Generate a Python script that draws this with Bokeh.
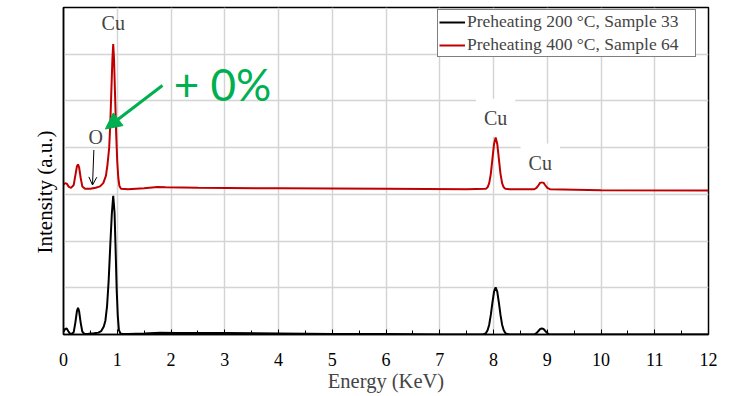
from bokeh.plotting import figure
from bokeh.models import (Label, Arrow, OpenHead, NormalHead, FixedTicker, Title,
                          SingleIntervalTicker, Legend, LegendItem, Range1d)
from bokeh.embed import file_html
from bokeh.resources import INLINE

# Energy (KeV) / intensity (a.u.)
energy_200 = [0.00, 0.03, 0.06, 0.09, 0.12, 0.15, 0.19, 0.22, 0.25, 0.27, 0.29, 0.32, 0.35, 0.39,
              0.45, 0.50, 0.55, 0.60, 0.65, 0.70, 0.75, 0.78, 0.81, 0.84, 0.87, 0.90, 0.925,
              0.95, 0.97, 0.99, 1.01, 1.03, 1.06, 1.10, 1.20, 1.50, 1.80, 2.10, 3.00, 4.00,
              5.00, 6.00, 7.00, 7.80, 7.83, 7.86, 7.89, 7.92, 7.95, 7.98, 8.01, 8.04, 8.07,
              8.10, 8.13, 8.16, 8.19, 8.22, 8.25, 8.30, 8.76, 8.80, 8.84, 8.87, 8.90, 8.93,
              8.96, 9.00, 9.04, 10.0, 11.0, 12.0]
intensity_200 = [0.06, 0.12, 0.13, 0.07, 0.02, 0.01, 0.05, 0.25, 0.50, 0.57, 0.50, 0.25, 0.06, 0.01,
                 0.01, 0.02, 0.02, 0.03, 0.04, 0.07, 0.17, 0.30, 0.60, 1.15, 1.90, 2.60, 2.97,
                 2.60, 1.80, 0.95, 0.40, 0.10, 0.02, 0.01, 0.01, 0.02, 0.04, 0.03, 0.03, 0.02,
                 0.01, 0.01, 0.00, 0.00, 0.01, 0.03, 0.09, 0.21, 0.42, 0.68, 0.92, 1.01, 0.92,
                 0.68, 0.42, 0.21, 0.09, 0.03, 0.01, 0.00, 0.00, 0.03, 0.08, 0.12, 0.13, 0.12,
                 0.08, 0.03, 0.00, 0.00, 0.00, 0.00]

energy_400 = [0.00, 0.03, 0.06, 0.10, 0.14, 0.19, 0.22, 0.25, 0.27, 0.29, 0.32, 0.35, 0.40,
              0.50, 0.60, 0.68, 0.74, 0.79, 0.82, 0.85, 0.87, 0.89, 0.91, 0.925, 0.94, 0.96,
              0.98, 1.00, 1.02, 1.04, 1.07, 1.20, 1.50, 1.75, 1.90, 2.50, 4.00, 6.00, 7.50,
              7.86, 7.89, 7.92, 7.95, 7.98, 8.01, 8.04, 8.07, 8.10, 8.13, 8.16, 8.19, 8.22,
              8.30, 8.76, 8.80, 8.84, 8.87, 8.90, 8.93, 8.96, 9.00, 9.05, 10.0, 12.0]
intensity_400 = [3.21, 3.24, 3.23, 3.16, 3.14, 3.20, 3.40, 3.60, 3.64, 3.58, 3.35, 3.17, 3.12,
                 3.12, 3.14, 3.17, 3.24, 3.40, 3.65, 4.00, 4.50, 5.20, 5.90, 6.22, 5.90, 5.10,
                 4.30, 3.70, 3.35, 3.18, 3.12, 3.11, 3.13, 3.16, 3.15, 3.14, 3.13, 3.12, 3.11,
                 3.12, 3.15, 3.24, 3.44, 3.76, 4.08, 4.22, 4.08, 3.76, 3.44, 3.24, 3.15, 3.12,
                 3.11, 3.11, 3.14, 3.20, 3.25, 3.26, 3.25, 3.20, 3.14, 3.11, 3.09, 3.08]

series_names = ["Preheating 200 \u00b0C, Sample 33", "Preheating 400 \u00b0C, Sample 64"]
series_colors = ["#000000", "#c00000"]
x_ticks = list(range(0, 13))
y_grid = list(range(0, 8))

SERIF = "Liberation Serif"

p = figure(width=725, height=396, output_backend="svg", toolbar_location=None,
           x_range=Range1d(0, 12), y_range=Range1d(0, 7),
           min_border_left=63, min_border_right=17, min_border_top=7, min_border_bottom=62)
p.background_fill_color = "white"
p.border_fill_color = "white"
p.outline_line_color = "black"
p.outline_line_width = 1.5

r1 = p.line(energy_200, intensity_200, line_color=series_colors[0], line_width=2)
r2 = p.line(energy_400, intensity_400, line_color=series_colors[1], line_width=2)

# axes
p.xaxis.ticker = SingleIntervalTicker(interval=1, num_minor_ticks=2)
p.xaxis.major_tick_in = 5
p.xaxis.major_tick_out = 0
p.xaxis.minor_tick_in = 4
p.xaxis.minor_tick_out = 0
p.xaxis.axis_line_width = 1.5
p.xaxis.major_label_text_font = SERIF
p.xaxis.major_label_text_font_size = "18px"
p.xaxis.major_label_text_color = "black"
p.xaxis.major_label_standoff = 18
p.xaxis.axis_label = "Energy (KeV)"
p.xaxis.axis_label_text_font = SERIF
p.xaxis.axis_label_text_font_size = "20.5px"
p.xaxis.axis_label_text_font_style = "normal"
p.xaxis.axis_label_standoff = 1

p.yaxis.ticker = FixedTicker(ticks=[])
p.yaxis.major_tick_in = 0
p.yaxis.major_tick_out = 0
p.yaxis.minor_tick_in = 0
p.yaxis.minor_tick_out = 0
p.yaxis.axis_line_width = 1.5

p.xgrid.ticker = FixedTicker(ticks=x_ticks)
p.ygrid.ticker = FixedTicker(ticks=y_grid)
p.xgrid.grid_line_color = "#d4d4d4"
p.ygrid.grid_line_color = "#d4d4d4"
p.xgrid.grid_line_width = 1.5
p.ygrid.grid_line_width = 1.5

# y axis title, a little below the frame centre as in the source
p.add_layout(Title(text="Intensity (a.u.)", align="left", offset=81, standoff=14,
                   text_font=SERIF, text_font_size="21px", text_font_style="normal",
                   text_color="black"), "left")

# legend
legend = Legend(items=[LegendItem(label=series_names[0], renderers=[r1]),
                       LegendItem(label=series_names[1], renderers=[r2])],
                location=(374, 277), margin=0, padding=1, spacing=2,
                label_text_font=SERIF, label_text_font_size="17.5px",
                label_height=20, label_width=227, glyph_height=20, glyph_width=26,
                label_standoff=2,
                border_line_color="black", border_line_width=1.2,
                background_fill_alpha=1.0)
p.add_layout(legend)

# annotations
def peak_label(x, y, txt):
    p.add_layout(Label(x=x, y=y, text=txt, text_font=SERIF, text_font_size="20px",
                       text_align="center", text_baseline="middle",
                       background_fill_color="white", padding=8))

p.add_layout(Label(x=0.925, y=6.66, text="Cu", text_font=SERIF, text_font_size="20px",
                   text_align="center", text_baseline="middle"))
p.add_layout(Label(x=0.60, y=4.22, text="O", text_font=SERIF, text_font_size="20px",
                   text_align="center", text_baseline="middle"))
peak_label(8.04, 4.64, "Cu")
peak_label(8.87, 3.68, "Cu")

p.add_layout(Arrow(x_start=0.565, y_start=3.95, x_end=0.54, y_end=3.20,
                   line_color="black", line_width=1,
                   end=OpenHead(size=8, line_color="black", line_width=1)))

p.add_layout(Label(x=2.96, y=5.37, text="+ 0%", text_font="Lato", text_font_size="44px",
                   text_color="#00b050", text_align="center", text_baseline="middle"))
p.add_layout(Arrow(x_start=1.84, y_start=5.33, x_end=0.78, y_end=4.40,
                   line_color="#00b050", line_width=3,
                   end=NormalHead(size=16, fill_color="#00b050", line_color="#00b050")))

open("out.html", "w").write(file_html(p, INLINE))
